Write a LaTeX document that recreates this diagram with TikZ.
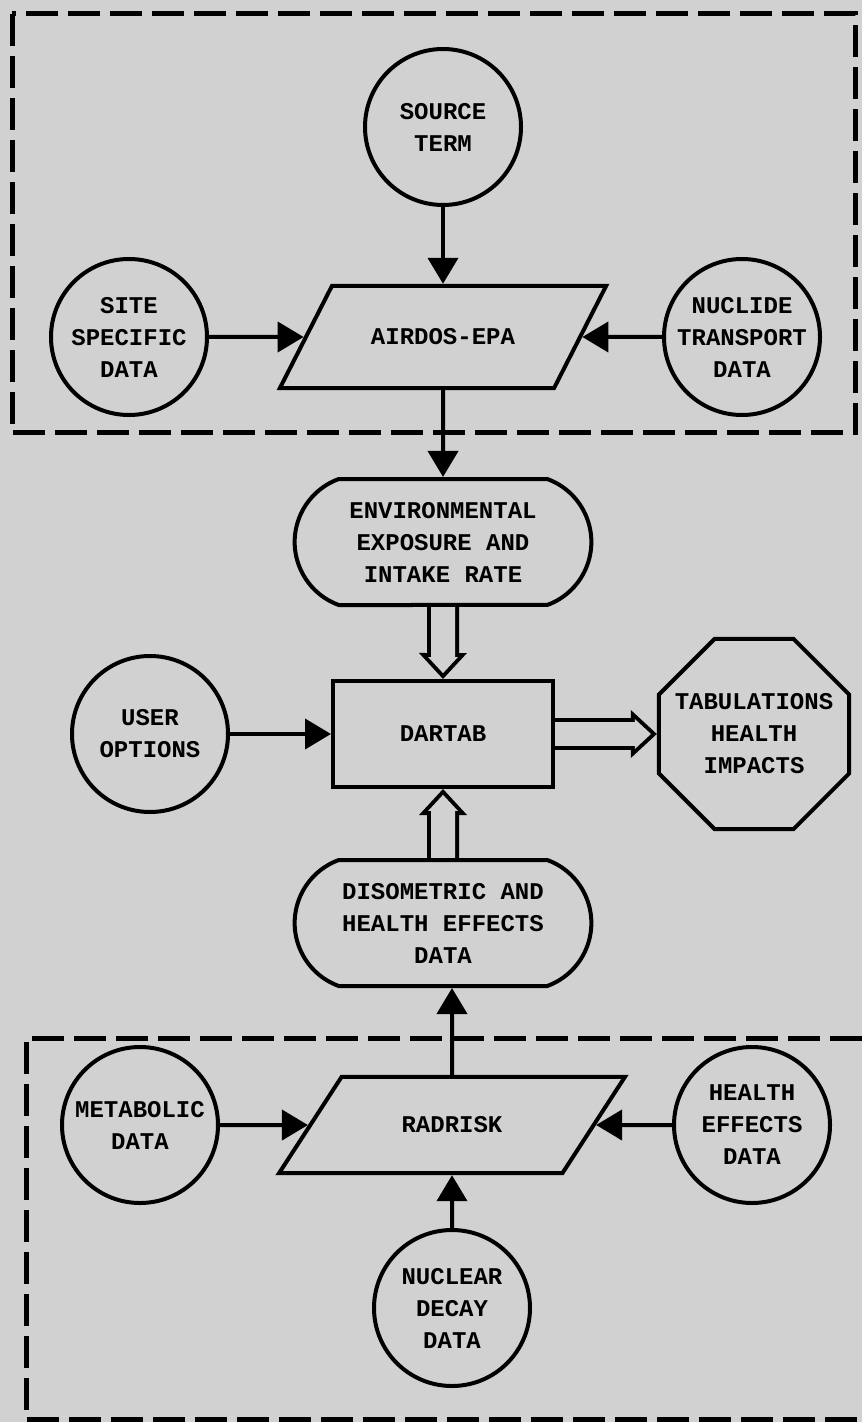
\documentclass[tikz,border=0pt]{standalone}
\usepackage{fontspec}
\setmonofont{Liberation Mono}
\usetikzlibrary{arrows.meta,positioning,shapes.geometric,shapes.misc}
\definecolor{paper}{gray}{0.82}

\tikzset{
  every node/.style={font=\ttfamily\bfseries\fontsize{12}{16}\selectfont, align=center, line width=2pt},
  data/.style={circle, draw, minimum size=78pt, inner sep=0pt},
  prog/.style={trapezium, draw, minimum width=0pt, minimum height=0pt},
  store/.style={rounded rectangle, rounded rectangle arc length=140, draw, minimum width=155pt, minimum height=63pt},
  report/.style={regular polygon, regular polygon sides=8, draw, minimum size=103pt},
  flow/.style={line width=2pt, -{Triangle[length=13pt,width=15pt]}},
  hollow/.style={line width=16pt, -{Triangle[length=13pt,width=24pt,line width=0pt]},
    postaction={draw=paper, line width=12pt, shorten >=2.95pt, -{Triangle[length=8pt,width=14.9pt,line width=0pt,fill=paper]}}},
  group/.style={line width=2.5pt, dash pattern=on 16pt off 5pt}
}

\begin{document}
\begin{tikzpicture}[x=0.5pt, y=-0.5pt]
	\useasboundingbox (0,0) rectangle (862,1422);
	\fill[paper] (0,0) rectangle (862,1422);
	
	% dashed groups
	\draw[group] (12,14) rectangle (855,433);
	\draw[group] (862,1038) -- (26,1038) -- (26,1419) -- (862,1419);
	
	\node[data] (src) at (443,127) {SOURCE\\TERM};
	\node[prog, trapezium left angle=63, trapezium right angle=117, inner xsep=19.5pt, inner ysep=21.5pt] (airdos) at (443,337) {AIRDOS-EPA};
	\node[data] (site) at (129,337) {SITE\\SPECIFIC\\DATA};
	\node[data] (nuclide) at (742,337) {NUCLIDE\\TRANSPORT\\DATA};
	\node[store] (env) at (443,542) {ENVIRONMENTAL\\EXPOSURE AND\\INTAKE RATE};
	\node[draw, minimum width=110pt, minimum height=53pt] (dartab) at (443,734) {DARTAB};
	\node[data] (user) at (150,734) {USER\\OPTIONS};
	\node[report, label={center:TABULATIONS\\HEALTH\\IMPACTS}] (tab) at (754,734) {};
	\node[store] (diso) at (443,923) {DISOMETRIC AND\\HEALTH EFFECTS\\DATA};
	\node[prog, trapezium left angle=57, trapezium right angle=123, inner xsep=30pt, inner ysep=20pt] (radrisk) at (452,1125) {RADRISK};
	\node[data] (metab) at (140,1125) {METABOLIC\\DATA};
	\node[data] (health) at (752,1125) {HEALTH\\EFFECTS\\DATA};
	\node[data] (nuclear) at (452,1308) {NUCLEAR\\DECAY\\DATA};
	
	\path[flow] (src) edge (airdos);
	\path[flow] (site) edge (airdos);
	\path[flow] (nuclide) edge (airdos);
	\path[flow] (airdos) edge (env);
	\path[flow] (user) edge (dartab);
	\path[flow] (radrisk) edge (radrisk |- diso.south);
	\path[flow] (metab) edge (radrisk);
	\path[flow] (health) edge (radrisk);
	\path[flow] (nuclear) edge (radrisk);
	
	\path (env) edge[hollow] (dartab);
	\path (diso) edge[hollow] (dartab);
	\path (dartab) edge[hollow] (tab);
	
\end{tikzpicture}
\end{document}
